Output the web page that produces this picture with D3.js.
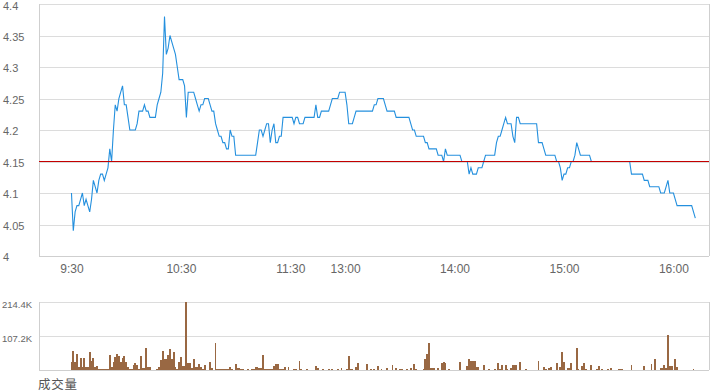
<!DOCTYPE html>
<html><head><meta charset="utf-8">
<script src="https://cdn.jsdelivr.net/npm/d3@7"></script>
<style>
body{margin:0;background:#fff;}
svg{display:block;font-family:"Liberation Sans",Arial,sans-serif;}
</style>
</head><body>
<svg id="chart" width="720" height="392"></svg>
<script>
// ---- data ----
const prevClose = 4.15;
const priceTicks = [4, 4.05, 4.1, 4.15, 4.2, 4.25, 4.3, 4.35, 4.4];
const timeTickMinutes = [0, 60, 120, 150, 210, 270, 330];
const timeTickLabels = ["9:30", "10:30", "11:30", "13:00", "14:00", "15:00", "16:00"];
const volumeTitle = "成交量";
// one price per trading minute from 9:30 (null = no trade printed)
const prices = [
4.10,4.04,4.07,4.08,4.08,4.09,4.10,4.08,4.09,4.08,
4.07,4.09,4.12,4.11,4.10,4.12,4.13,4.13,4.12,4.13,
4.14,4.17,4.15,4.20,4.24,4.23,4.25,4.26,4.27,4.24,
4.24,4.22,4.20,4.20,4.20,4.20,4.21,4.23,4.23,4.23,
4.24,4.23,4.23,4.22,4.22,4.22,4.22,4.24,4.25,4.26,
4.29,4.38,4.32,4.33,4.35,4.34,4.33,4.32,4.30,4.28,
4.28,4.28,4.27,4.22,4.26,4.26,4.26,4.26,4.25,4.24,
4.23,4.24,4.24,4.25,4.25,4.25,4.24,4.23,4.23,4.21,
4.20,4.19,4.19,4.18,4.18,4.17,4.17,4.20,4.19,4.19,
4.16,4.16,4.16,4.16,4.16,4.16,4.16,4.16,4.16,4.16,
4.16,4.16,4.18,4.20,4.20,4.19,4.20,4.21,4.21,4.18,
4.20,4.21,4.18,4.18,4.19,4.19,4.22,4.22,4.22,4.22,
4.22,4.22,4.21,4.22,4.22,4.21,4.21,4.21,4.22,4.22,
4.22,4.22,4.22,4.22,4.24,4.22,4.22,4.23,4.23,4.23,
4.23,4.23,4.24,4.25,4.25,4.25,4.25,4.26,4.26,4.26,
4.26,4.24,4.21,4.21,4.21,4.22,4.23,4.23,4.23,4.23,
4.23,4.23,4.23,4.23,4.23,4.23,4.24,4.24,4.25,4.25,
4.25,4.25,4.24,4.23,4.23,4.23,4.23,4.23,4.22,4.22,
4.22,4.22,4.22,4.22,4.22,4.22,4.21,4.20,4.20,4.19,
4.19,4.19,4.19,4.19,4.18,4.18,4.17,4.17,4.17,4.17,
4.17,4.16,4.16,4.16,4.15,4.17,4.16,4.16,4.16,4.16,
4.16,4.16,4.16,4.16,4.15,4.15,4.15,4.15,4.13,4.14,
4.13,4.13,4.13,4.14,4.14,4.14,4.15,4.16,4.16,4.16,
4.16,4.16,4.16,4.18,4.19,4.19,4.20,4.21,4.22,4.21,
4.21,4.21,4.19,4.18,4.22,4.22,4.21,4.21,4.21,4.21,
4.21,4.21,4.21,4.21,4.21,4.21,4.18,4.18,4.18,4.17,
4.16,4.16,4.16,4.16,4.16,4.16,4.15,4.15,4.14,4.12,
4.13,4.13,4.14,4.14,4.15,4.15,4.16,4.18,4.17,4.16,
4.16,4.16,4.16,4.16,4.16,4.15,null,null,null,null,
null,null,null,null,null,null,null,null,null,null,
null,null,null,null,null,null,4.15,4.13,4.13,4.13,
4.13,4.13,4.13,4.13,4.12,4.12,4.12,4.11,4.11,4.11,
4.11,4.11,4.11,4.10,4.10,4.10,4.11,4.12,4.10,4.10,
4.10,4.09,4.08,4.08,4.08,4.08,4.08,4.08,4.08,4.08,
4.08,4.07,4.06
];
// volume per trading minute, in thousands of shares
const volumesK = [
26,60,26,50,10,39,8,38,10,10,
57,30,37,10,13,3,3,3,3,3,
3,47,10,26,42,50,44,26,39,44,
26,8,4,4,15,22,15,3,44,5,
5,70,8,10,0,0,0,3,10,32,
60,35,35,47,67,35,58,10,4,26,
42,13,13,214.4,23,23,5,35,8,8,
19,8,4,17,0,0,26,5,0,87,
3,3,3,3,3,3,3,8,4,0,
19,6,6,3,3,0,0,3,0,3,
3,10,10,6,6,47,3,3,3,3,
3,13,19,19,3,3,3,10,0,10,
0,0,3,3,0,28,3,0,0,3,
0,0,0,0,13,6,0,0,3,0,
0,3,0,3,0,0,3,0,6,0,
0,3,44,3,3,0,10,22,0,0,
0,0,19,0,3,0,3,0,13,0,
3,0,0,6,0,0,16,0,6,0,
3,3,0,0,3,0,6,0,19,3,
0,0,0,3,35,50,85,6,6,6,
0,6,0,22,25,22,0,3,0,0,
0,0,0,25,0,0,0,13,35,28,
28,28,10,10,0,0,16,0,0,3,
0,0,3,0,22,3,16,0,16,3,
0,6,16,16,16,0,25,0,0,3,
0,0,0,0,0,0,28,0,0,10,
3,0,6,10,0,0,22,0,10,57,
25,0,6,6,22,0,0,70,3,0,
13,22,3,0,0,16,0,0,3,13,
0,3,0,0,3,0,6,0,0,0,
3,3,3,0,0,0,0,16,0,0,
0,0,0,0,13,0,0,0,19,0,
35,0,0,6,6,16,6,111,13,13,
0,35,10,0,0,0,0,0,0,0,
0,3,0
];

// ---- layout ----
const svg = d3.select("#chart");
const L = 39, R = 709;
const priceTop = 4, priceBottom = 256;
const volTop = 302.3, volBottom = 370;
const gridColor = "#dcdcdc", axisColor = "#cfcfcf", textColor = "#666";

const x = d3.scaleLinear().domain([-17.8, 349.5]).range([L, R]);
const y = d3.scaleLinear().domain([4.0, 4.4]).range([priceBottom, priceTop]);
const volMax = d3.max(volumesK);
const yv = d3.scaleLinear().domain([0, volMax]).range([volBottom, volTop]);
const volTicks = [volMax / 2, volMax];

// ---- price panel grid ----
const gGrid = svg.append("g").attr("transform", `translate(${L},0)`)
  .call(d3.axisRight(y).tickValues(priceTicks.filter(t => t > 4)).tickSize(R - L).tickFormat(""));
gGrid.select(".domain").remove();
gGrid.selectAll("line").attr("stroke", gridColor).attr("shape-rendering", "crispEdges");

// y labels
const gY = svg.append("g")
  .call(d3.axisLeft(y).tickValues(priceTicks).tickSize(0)
    .tickFormat(d => String(+d.toFixed(2))));
gY.select(".domain").remove();
gY.selectAll("text").attr("x", 3).attr("dy", "0.32em").attr("text-anchor", "start")
  .attr("fill", textColor).attr("font-size", 11)
  .attr("font-family", "'Liberation Sans',Arial,sans-serif")
  .attr("transform", d => d === 4.4 ? "translate(0,2)" : "translate(0,1)");

// frame lines
const frame = svg.append("g").attr("shape-rendering", "crispEdges");
frame.append("line").attr("x1", L).attr("x2", L).attr("y1", y(4.4)).attr("y2", y(4)).attr("stroke", axisColor);
frame.append("line").attr("x1", R).attr("x2", R).attr("y1", y(4.4)).attr("y2", y(4)).attr("stroke", axisColor);
frame.append("line").attr("x1", L).attr("x2", R).attr("y1", y(4)).attr("y2", y(4)).attr("stroke", axisColor);

// x labels
const gX = svg.append("g").attr("transform", `translate(0,${priceBottom})`)
  .call(d3.axisBottom(x).tickValues(timeTickMinutes).tickSize(0)
    .tickFormat((d, i) => timeTickLabels[i]));
gX.select(".domain").remove();
gX.selectAll("text").attr("y", 13.5).attr("dy", "0.32em").attr("fill", textColor)
  .attr("font-size", 12).attr("font-family", "'Liberation Sans',Arial,sans-serif");

// price line
const line = d3.line().defined(d => d != null).x((d, i) => x(i)).y(d => y(d));
svg.append("path").datum(prices).attr("d", line)
  .attr("fill", "none").attr("stroke", "#2490de").attr("stroke-width", 1.1);

// previous close line
svg.append("line").attr("x1", L).attr("x2", R).attr("y1", y(prevClose)).attr("y2", y(prevClose))
  .attr("stroke", "#c40000").attr("stroke-width", 1).attr("shape-rendering", "crispEdges");

// ---- volume panel ----
const gVG = svg.append("g").attr("transform", `translate(${L},0)`)
  .call(d3.axisRight(yv).tickValues(volTicks).tickSize(R - L).tickFormat(""));
gVG.select(".domain").remove();
gVG.selectAll("line").attr("stroke", gridColor).attr("shape-rendering", "crispEdges");

const gVY = svg.append("g")
  .call(d3.axisLeft(yv).tickValues(volTicks).tickSize(0)
    .tickFormat(d => (d).toFixed(1) + "K"));
gVY.select(".domain").remove();
gVY.selectAll("text").attr("x", 2).attr("dy", "0.32em").attr("transform", "translate(0,2)")
  .attr("text-anchor", "start").attr("fill", textColor).attr("font-size", 9.5)
  .attr("font-family", "'Liberation Sans',Arial,sans-serif");

const bw = x(1) - x(0);
svg.append("g").attr("shape-rendering", "crispEdges")
  .selectAll("rect").data(volumesK).join("rect")
  .attr("x", (d, i) => x(i) - bw / 2)
  .attr("width", bw)
  .attr("y", d => yv(d))
  .attr("height", d => yv(0) - yv(d))
  .attr("fill", "#996843");

const vframe = svg.append("g").attr("shape-rendering", "crispEdges");
vframe.append("line").attr("x1", L).attr("x2", L).attr("y1", volTop).attr("y2", volBottom).attr("stroke", axisColor);
vframe.append("line").attr("x1", R).attr("x2", R).attr("y1", volTop).attr("y2", volBottom).attr("stroke", axisColor);
vframe.append("line").attr("x1", L).attr("x2", R).attr("y1", volBottom).attr("y2", volBottom).attr("stroke", axisColor);

svg.append("text").attr("x", 38).attr("y", 389)
  .attr("font-size", 12.5).attr("fill", "#555").attr("letter-spacing", 0.8)
  .attr("font-family", "'Noto Sans CJK SC','Noto Sans',sans-serif")
  .text(volumeTitle);
</script>
</body></html>
